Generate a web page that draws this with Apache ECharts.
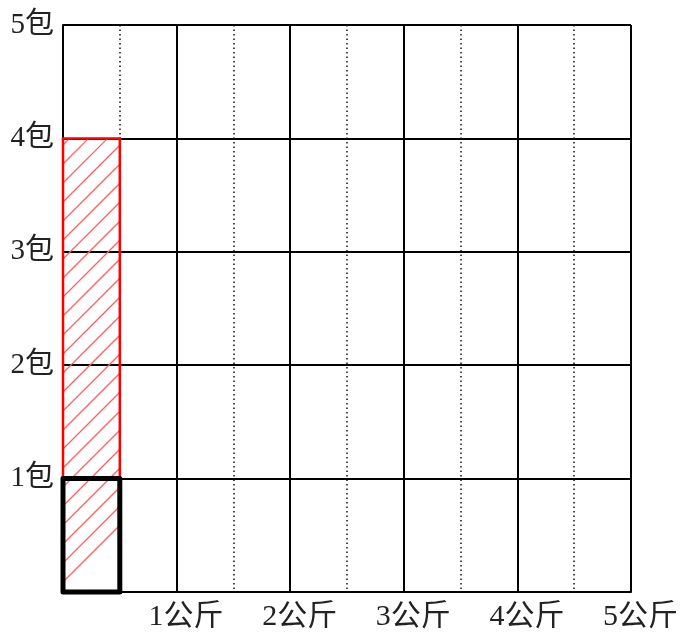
<!DOCTYPE html>
<html><head><meta charset="utf-8">
<script src="https://cdn.jsdelivr.net/npm/echarts@6/dist/echarts.min.js"></script>
<style>html,body{margin:0;padding:0;background:#fff}#c{width:681px;height:633px}</style>
</head><body><div id="c"></div>
<script>
// data
const xTicks = [0, 1, 2, 3, 4, 5];          // 公斤
const yTicks = [0, 1, 2, 3, 4, 5];          // 包
const xUnit = '公斤';
const yUnit = '包';
const hatchRect = [0, 0.5, 0, 4];           // x0, x1, y0, y1 (red hatched)
const boxRect = [0, 0.5, 0, 1];             // x0, x1, y0, y1 (thick black)

const FONT = "'Liberation Serif', 'Noto Sans CJK SC', serif";
const chart = echarts.init(document.getElementById('c'), null, {renderer: 'canvas'});

function rectItem(params, api) {
  const p0 = api.coord([api.value(0), api.value(3)]);
  const p1 = api.coord([api.value(1), api.value(2)]);
  return {x: p0[0], y: p0[1], w: p1[0] - p0[0], h: p1[1] - p0[1]};
}

chart.setOption({
  animation: false,
  grid: {left: 63, right: 49, top: 25, bottom: 41},
  xAxis: {
    type: 'value', min: xTicks[0], max: xTicks[xTicks.length - 1], interval: 1,
    axisLine: {show: true, onZero: false, lineStyle: {color: '#000', width: 2}},
    axisTick: {show: false},
    splitLine: {show: true, lineStyle: {color: '#000', width: 2}},
    minorTick: {show: false, splitNumber: 2},
    minorSplitLine: {show: true, lineStyle: {color: '#111', width: 1.5, type: [1.5, 3]}},
    axisLabel: {
      color: '#222', fontFamily: FONT, fontSize: 30, margin: 10,
      padding: [0, 0, 0, 19],
      formatter: v => v === 0 ? '' : v + xUnit
    }
  },
  yAxis: {
    type: 'value', min: yTicks[0], max: yTicks[yTicks.length - 1], interval: 1,
    axisLine: {show: true, onZero: false, lineStyle: {color: '#000', width: 2}},
    axisTick: {show: false},
    splitLine: {show: true, lineStyle: {color: '#000', width: 2}},
    axisLabel: {
      color: '#222', fontFamily: FONT, fontSize: 29, margin: 9,
      formatter: v => v === 0 ? '' : v + yUnit
    }
  },
  series: [
    {
      type: 'custom', z: 5,
      data: [hatchRect],
      renderItem: function (params, api) {
        const r = rectItem(params, api);
        const children = [];
        const s = 19;
        const x0 = r.x, y0 = r.y, x1 = r.x + r.w, y1 = r.y + r.h;
        for (let c = x0 + y1 - 10; c > x0 + y0; c -= s) {
          const xa = Math.max(x0, c - y1);
          const xb = Math.min(x1, c - y0);
          if (xb <= xa) continue;
          children.push({type: 'line', shape: {x1: xa, y1: c - xa, x2: xb, y2: c - xb},
            style: {stroke: '#ff6060', lineWidth: 1.3}});
        }
        children.push({type: 'rect', shape: {x: r.x, y: r.y, width: r.w, height: r.h},
          style: {fill: 'none', stroke: '#ff0000', lineWidth: 2.5}});
        return {type: 'group', children: children};
      }
    },
    {
      type: 'custom', z: 6,
      data: [boxRect],
      renderItem: function (params, api) {
        const r = rectItem(params, api);
        return {type: 'rect', shape: {x: r.x, y: r.y, width: r.w, height: r.h},
          style: {fill: 'none', stroke: '#000', lineWidth: 5, lineJoin: 'round'}};
      }
    }
  ]
});
</script></body></html>
